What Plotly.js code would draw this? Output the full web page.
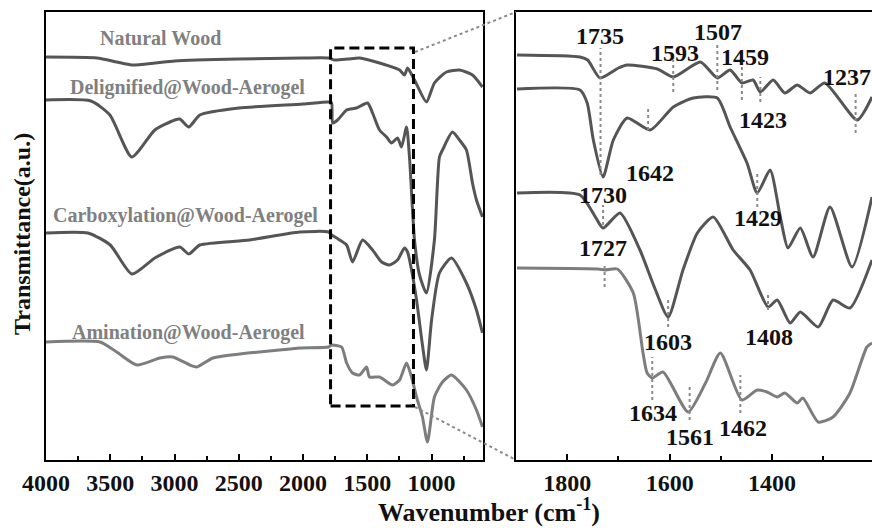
<!DOCTYPE html>
<html><head><meta charset="utf-8">
<script src="https://cdn.plot.ly/plotly-3.0.1.min.js"></script>
<style>html,body{margin:0;padding:0;background:#fff}#chart{width:872px;height:528px}</style>
</head><body><div id="chart"></div>
<script>
// ---------- Full-range spectra (left panel) ----------
const natWn = [4000,3604,3450,3332,3150,2998,2500,2000,1801,1754,1650,1560,1405,1249,1211,1187,1133,1040,978,884,783,682,604];
const natT  = [403,402,398,395,397,399,401,402,402,400,401,402,397,390,385,392,380,358,377,388,390,385,373];

const delWn = [4000,3650,3503,3332,3153,2998,2959,2889,2803,2500,2000,1801,1778,1770,1731,1661,1584,1498,1459,1405,1350,1312,1265,1234,1195,1172,1133,1094,1040,978,939,915,838,783,729,682,651,604];
const delT  = [360,359,345,303,330,340,341,333,345,352,356,358,357,337,340,350,352,357,347,330,323,317,322,313,333,303,220,185,167,220,303,310,328,320,310,277,260,243];

const carWn = [4000,3674,3500,3332,3153,2959,2889,2803,2415,2026,1801,1778,1739,1661,1615,1537,1459,1389,1327,1265,1211,1187,1156,1117,1071,1040,1000,939,845,729,651,604];
const carT  = [227,227,215,186,202,213,206,215,220,228,228,225,222,215,198,220,210,198,195,200,212,208,190,160,115,90,140,187,202,177,150,127];

const amiWn = [4000,3580,3450,3293,3114,3013,2881,2827,2702,2493,2182,2026,1801,1778,1700,1661,1615,1560,1506,1483,1405,1304,1249,1195,1156,1117,1071,1032,978,915,845,729,651,604];
const amiT  = [118,118,108,95,102,103,95,93,102,106,110,112,113,115,113,97,87,85,93,83,83,75,80,97,83,63,43,18,63,78,85,70,50,33];

// ---------- Enlarged region (right panel) ----------
const zNatWn = [1898,1775,1760,1736,1700,1683,1624,1593,1540,1507,1482,1459,1437,1423,1398,1375,1351,1326,1297,1234,1205];
const zNatT  = [405,403,400,382,392,395,391,383,398,382,390,377,380,368,380,367,375,367,377,340,363];

const zDelWn = [1898,1775,1761,1749,1730,1710,1683,1638,1593,1554,1507,1482,1449,1429,1404,1384,1369,1345,1320,1287,1244,1205];
const zDelT  = [371,370,357,320,283,320,342,330,353,362,362,333,297,267,290,243,212,232,203,253,193,263];

const zCarWn = [1898,1775,1745,1730,1697,1658,1630,1603,1574,1546,1515,1476,1443,1408,1390,1365,1345,1310,1281,1248,1205];
const zCarT  = [267,265,243,232,247,210,173,143,190,227,243,210,190,153,160,137,148,133,160,152,200];

const zAmiWn = [1898,1740,1727,1702,1671,1652,1644,1634,1613,1564,1530,1501,1459,1429,1410,1390,1375,1351,1340,1310,1281,1248,1215,1205];
const zAmiT  = [192,191,190,191,167,107,87,82,88,48,77,107,60,70,68,63,67,57,62,38,43,67,113,117];

// ---------- Labels ----------
const seriesNames = ["Natural Wood","Delignified@Wood-Aerogel","Carboxylation@Wood-Aerogel","Amination@Wood-Aerogel"];
const peakText = ["1735","1593","1507","1459","1423","1237","1642","1730","1429","1727","1603","1408","1634","1561","1462"];
const peakWn   = [1735,1593,1507,1459,1423,1237,1642,1730,1429,1727,1603,1408,1634,1561,1462];

// layout helpers (positions)
const markTop = [412,400,417,393,383,368,353,255,288,197,160,168,103,75,85];
const markBot = [285,368,370,360,358,327,330,235,253,173,133,150,60,40,47];
const labelX  = [1736,1589,1505,1453,1418,1253,1638,1730,1427,1730,1603,1406,1632,1560,1457];
const labelY  = [424,407,428,403,340,383,287,265,242,212,118,123,47,23,32];
const nameX = [3106,2897,2912,2889];
const nameY = [422,373,245,128];

const dark = "#555555", light = "#7d7d7d";
const colors = [dark, dark, dark, light];
const serif = "Liberation Serif, Times New Roman, serif";

function tr(x, y, c, xa, ya){
  return {x:x, y:y, mode:"lines", type:"scatter", xaxis:xa, yaxis:ya,
    line:{color:c, width:3, shape:"spline", smoothing:0.6}, hoverinfo:"skip", showlegend:false};
}
const traces = [
  tr(natWn, natT, colors[0], "x", "y"),
  tr(delWn, delT, colors[1], "x", "y"),
  tr(carWn, carT, colors[2], "x", "y"),
  tr(amiWn, amiT, colors[3], "x", "y"),
  tr(zNatWn, zNatT, colors[0], "x2", "y2"),
  tr(zDelWn, zDelT, colors[1], "x2", "y2"),
  tr(zCarWn, zCarT, colors[2], "x2", "y2"),
  tr(zAmiWn, zAmiT, colors[3], "x2", "y2")
];

const FW = 872, FH = 528, plotTop = 12, plotBottom = 460;
const px = v => v / FW;
const py = v => (plotBottom - v) / (plotBottom - plotTop);

const shapes = [];
shapes.push({type:"rect", xref:"x", yref:"y", x0:1786, x1:1141, y0:54, y1:412,
  line:{color:"#000", width:3, dash:"10px,5px"}});
shapes.push({type:"line", xref:"paper", yref:"paper", x0:px(415), y0:py(52), x1:px(516), y1:py(12),
  line:{color:"#8a8a8a", width:2, dash:"dot"}});
shapes.push({type:"line", xref:"paper", yref:"paper", x0:px(415), y0:py(407), x1:px(516), y1:py(460),
  line:{color:"#8a8a8a", width:2, dash:"dot"}});
for (let i=0;i<peakWn.length;i++){
  shapes.push({type:"line", xref:"x2", yref:"y2", x0:peakWn[i], x1:peakWn[i], y0:markBot[i], y1:markTop[i],
    line:{color:"#8a8a8a", width:2, dash:"dot"}});
}

const annotations = [];
for (let i=0;i<peakText.length;i++){
  annotations.push({xref:"x2", yref:"y2", x:labelX[i], y:labelY[i], text:peakText[i], showarrow:false,
    font:{family:serif, size:24, color:"#111", weight:"bold"}, xanchor:"center", yanchor:"middle"});
}
for (let i=0;i<seriesNames.length;i++){
  annotations.push({xref:"x", yref:"y", x:nameX[i], y:nameY[i], text:seriesNames[i], showarrow:false,
    font:{family:serif, size:20, color:"#808080", weight:"bold"}, xanchor:"center", yanchor:"middle"});
}
annotations.push({xref:"paper", yref:"paper", x:px(22), y:py(234), text:"Transmittance(a.u.)", textangle:-90,
  showarrow:false, font:{family:serif, size:24, color:"#111", weight:"bold"}, xanchor:"center", yanchor:"middle"});
annotations.push({xref:"paper", yref:"paper", x:px(489), y:py(510), text:"Wavenumber (cm<sup>-1</sup>)",
  showarrow:false, font:{family:serif, size:26, color:"#111", weight:"bold"}, xanchor:"center", yanchor:"middle"});

const tickFont = {family:serif, size:24, color:"#111", weight:"bold"};
const layout = {
  width:FW, height:FH, paper_bgcolor:"#fff", plot_bgcolor:"#fff",
  margin:{l:0, r:0, t:plotTop, b:FH-plotBottom, pad:0},
  showlegend:false,
  xaxis:{domain:[px(46), px(483)], range:[4000, 600], anchor:"y", showgrid:false, zeroline:false,
    showline:true, linecolor:"#000", linewidth:2, mirror:true,
    ticks:"inside", ticklen:6, tickwidth:2, tickcolor:"#000", dtick:500, tick0:0,
    minor:{dtick:250, ticks:"inside", ticklen:4, tickwidth:2, tickcolor:"#000"},
    tickfont:tickFont, ticklabelstandoff:0, fixedrange:true},
  yaxis:{domain:[0,1], range:[0, 448], anchor:"x", showgrid:false, zeroline:false, showticklabels:false,
    ticks:"", showline:true, linecolor:"#000", linewidth:2, mirror:true, fixedrange:true},
  xaxis2:{domain:[px(516), 1], range:[1900, 1205], anchor:"y2", showgrid:false, zeroline:false,
    showline:true, linecolor:"#000", linewidth:2, mirror:true,
    ticks:"inside", ticklen:6, tickwidth:2, tickcolor:"#000", dtick:200, tick0:0,
    minor:{dtick:100, ticks:"inside", ticklen:4, tickwidth:2, tickcolor:"#000"},
    tickfont:tickFont, ticklabelstandoff:0, fixedrange:true},
  yaxis2:{domain:[0,1], range:[0, 448], anchor:"x2", showgrid:false, zeroline:false, showticklabels:false,
    ticks:"", showline:true, linecolor:"#000", linewidth:2, mirror:false, fixedrange:true},
  shapes:shapes, annotations:annotations
};
Plotly.newPlot("chart", traces, layout, {displayModeBar:false, staticPlot:true});
</script></body></html>
